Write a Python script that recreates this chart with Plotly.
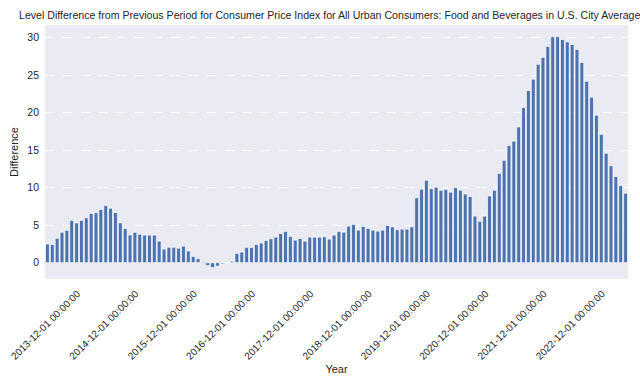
import plotly.graph_objects as go
import pandas as pd

dates = pd.date_range("2013-12-01", periods=120, freq="MS").strftime("%Y-%m-%d %H:%M:%S").tolist()

diff_2014_2015 = [2.50, 2.42, 3.25, 4.05, 4.31, 5.64, 5.30, 5.64, 5.98, 6.55, 6.66, 7.09,
                  7.61, 7.26, 6.69, 5.31, 4.56, 3.70, 4.05, 3.79, 3.69, 3.68, 3.68, 2.88]
diff_2016_2017 = [1.82, 2.06, 2.06, 1.94, 2.20, 1.56, 0.84, 0.55, 0.15, -0.40, -0.66, -0.46,
                  -0.15, -0.03, 0.20, 1.24, 1.42, 2.04, 2.04, 2.44, 2.62, 2.97, 3.19, 3.41]
diff_2018_2019 = [3.90, 4.17, 3.50, 3.01, 3.24, 2.88, 3.41, 3.41, 3.41, 3.46, 3.15, 3.68,
                  4.17, 4.08, 4.88, 5.10, 4.34, 4.83, 4.57, 4.34, 4.21, 4.34, 4.96, 4.79]
diff_2020_2021 = [4.39, 4.48, 4.48, 4.79, 8.64, 9.80, 10.99, 9.88, 10.06, 9.66, 9.78, 9.40,
                  10.00, 9.66, 9.15, 8.82, 6.21, 5.52, 6.21, 8.89, 9.66, 11.90, 13.65, 15.62]
diff_2022_2023 = [16.20, 18.09, 20.68, 22.96, 24.45, 26.44, 27.37, 28.79, 30.10, 30.10, 29.74, 29.43,
                  29.08, 28.41, 26.68, 24.16, 22.05, 19.66, 17.11, 14.58, 12.92, 11.48, 10.28, 9.26]
values = diff_2014_2015 + diff_2016_2017 + diff_2018_2019 + diff_2020_2021 + diff_2022_2023

tick_labels = dates[::12]
y_ticks = [0, 5, 10, 15, 20, 25, 30]

title = ("Level Difference from Previous Period for Consumer Price Index for All Urban "
         "Consumers: Food and Beverages in U.S. City Average")

FONT = "Arial, 'Liberation Sans', sans-serif"
TXT = "#262626"

fig = go.Figure(go.Bar(
    x=dates, y=values,
    marker=dict(color="#4C72B0", line=dict(color="white", width=0.7)),
    width=0.8,
))

fig.update_layout(
    width=640, height=384,
    margin=dict(l=45, r=12, t=25, b=105, autoexpand=False),
    paper_bgcolor="white",
    plot_bgcolor="#EAEAF2",
    font=dict(family=FONT, color=TXT, size=10),
    showlegend=False,
    bargap=0.2,
    title=dict(text=title, x=19/640, xanchor="left", xref="container",
               y=1-15/384, yanchor="middle", yref="container",
               font=dict(size=10.6, color=TXT, family=FONT)),
)
fig.update_xaxes(
    type="category", range=[-0.5, 119.5],
    tickmode="array", tickvals=tick_labels, ticktext=tick_labels,
    tickangle=-45, tickfont=dict(size=10, color=TXT),
    ticklabelshift=30, ticklabelstandoff=6,
    showgrid=False, zeroline=False, showline=False, ticks="",
    title=dict(text="Year", font=dict(size=11, color=TXT), standoff=4),
)
fig.update_yaxes(
    range=[-2.17, 31.67], tickvals=y_ticks,
    tickfont=dict(size=10.5, color=TXT), ticklabelstandoff=5,
    showgrid=True, gridcolor="white", griddash="dash", gridwidth=0.8,
    zeroline=False, showline=False, ticks="",
    title=dict(text="Difference", font=dict(size=11, color=TXT), standoff=6),
)

fig.write_html("out.html", config={"displayModeBar": False},
               post_script="document.body.style.margin='0';document.body.style.overflow='hidden';")
